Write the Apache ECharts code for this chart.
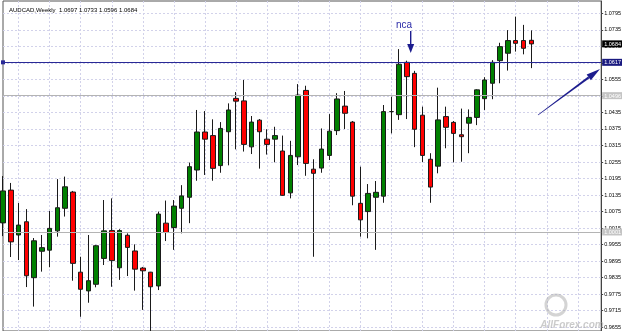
<!DOCTYPE html>
<html><head><meta charset="utf-8">
<script src="https://cdn.jsdelivr.net/npm/echarts@6/dist/echarts.min.js"></script>
<style>html,body{margin:0;padding:0;background:#fff}#c{width:625px;height:331px}</style>
</head><body><div id="c"></div>
<script>
// ---- data (AUDCAD weekly) ----
const opens  = [1.0034,1.0153,0.9990,1.0038,0.9835,0.9931,0.9935,1.0005,1.0087,1.0146,
                0.9855,0.9787,0.9811,0.9905,1.0006,0.9871,0.9989,0.9932,0.9870,0.9855,
                0.9805,1.0033,1.0017,1.0087,1.0127,1.0226,1.0364,1.0351,1.0242,1.0365,
                1.0486,1.0477,1.0310,1.0407,1.0338,1.0338,1.0295,1.0143,1.0274,1.0515,
                1.0229,1.0233,1.0279,1.0369,1.0458,1.0400,1.0105,1.0075,1.0127,1.0131,
                1.0438,1.0427,1.0617,1.0577,1.0425,1.0265,1.0240,1.0420,1.0399,1.0354,
                1.0396,1.0417,1.0485,1.0541,1.0623,1.0650,1.0696,1.0696,1.0697];
const closes = [1.0150,0.9965,1.0026,0.9842,0.9969,0.9944,1.0014,1.0089,1.0165,0.9887,
                0.9793,0.9824,0.9951,1.0005,0.9897,1.0006,0.9945,0.9866,0.9860,0.9802,
                1.0066,0.9999,1.0095,1.0132,1.0238,1.0364,1.0338,1.0232,1.0377,1.0444,
                1.0476,1.0319,1.0400,1.0365,1.0319,1.0351,1.0134,1.0279,1.0498,1.0250,
                1.0214,1.0302,1.0367,1.0484,1.0432,1.0131,1.0045,1.0141,1.0145,1.0438,
                1.0438,1.0610,1.0565,1.0374,1.0279,1.0164,1.0408,1.0381,1.0359,1.0347,
                1.0417,1.0517,1.0553,1.0617,1.0674,1.0696,1.0686,1.0668,1.0684];
const lows   = [0.9986,0.9910,0.9899,0.9801,0.9730,0.9857,0.9873,0.9984,1.0057,0.9824,
                0.9693,0.9744,0.9800,0.9881,0.9802,0.9827,0.9841,0.9788,0.9718,0.9630,
                0.9790,0.9968,0.9936,0.9996,1.0033,1.0187,1.0208,1.0187,1.0216,1.0243,
                1.0301,1.0293,1.0284,1.0231,1.0282,1.0254,1.0132,1.0123,1.0244,1.0205,
                0.9911,1.0216,1.0262,1.0353,1.0375,1.0098,0.9984,0.9978,0.9936,1.0107,
                1.0359,1.0408,1.0411,1.0309,1.0255,1.0107,1.0214,1.0305,1.0254,1.0256,
                1.0287,1.0389,1.0444,1.0483,1.0541,1.0587,1.0656,1.0646,1.0596];
const highs  = [1.0204,1.0179,1.0106,1.0084,0.9979,0.9990,1.0077,1.0193,1.0202,1.0150,
                0.9911,0.9990,0.9954,1.0117,1.0123,1.0011,0.9996,0.9956,0.9874,0.9856,
                1.0075,1.0115,1.0117,1.0171,1.0253,1.0444,1.0440,1.0410,1.0400,1.0468,
                1.0509,1.0553,1.0422,1.0411,1.0374,1.0383,1.0351,1.0332,1.0538,1.0532,
                1.0265,1.0377,1.0429,1.0505,1.0513,1.0404,1.0238,1.0175,1.0186,1.0462,
                1.0492,1.0665,1.0623,1.0586,1.0456,1.0287,1.0525,1.0456,1.0404,1.0449,
                1.0446,1.0519,1.0563,1.0625,1.0688,1.0734,1.0783,1.0753,1.0733];
const emptySlots = 9;
const priceTicks = [0.9655,0.9715,0.9775,0.9835,0.9895,0.9955,1.0015,1.0075,1.0135,1.0195,
                    1.0255,1.0315,1.0375,1.0435,1.0495,1.0555,1.0615,1.0675,1.0735,1.0795];
const blueLevel = 1.0617;
const grayLevels = [1.0496, 1.0001];
const lastPrice = 1.0684;
const headerText = 'AUDCAD,Weekly  1.0697 1.0733 1.0596 1.0684';
const noteText = 'nca';
const watermarkText = 'AllForex.com';

// ---- chart ----
const yMin = 0.96414, yMax = 1.08397;
const n = opens.length;
const categories = opens.map((_, i) => 'W' + (i + 1))
  .concat(Array.from({length: emptySlots}, (_, i) => 'W' + (n + i + 1)));
const candles = opens.map((o, i) => [o, closes[i], lows[i], highs[i]]);
const font = 'Liberation Sans, Arial, sans-serif';
const tagValues = [lastPrice, blueLevel].concat(grayLevels);
function tagKey(v) {
  if (v === lastPrice) return 'blk';
  if (v === blueLevel) return 'blu';
  return 'gry';
}
const chart = echarts.init(document.getElementById('c'), null, {renderer: 'canvas'});
const option = {
  animation: false,
  backgroundColor: '#ffffff',
  title: {
    text: headerText, left: 4, top: 2,
    textStyle: {fontSize: 6, fontWeight: 'normal', color: '#000', fontFamily: font}
  },
  grid: {left: 3, right: 21, top: 1, bottom: 0, show: true, borderColor: '#555', borderWidth: 1},
  xAxis: {
    type: 'category', data: categories, boundaryGap: false,
    axisLine: {show: false}, axisTick: {show: false}, axisLabel: {show: false},
    splitLine: {show: true, interval: (i) => i % 4 === 2,
      lineStyle: {color: '#d2d2ea', type: [2, 2], width: 1}}
  },
  yAxis: [{
    type: 'value', position: 'right', min: yMin, max: yMax,
    axisLine: {show: true, lineStyle: {color: '#444', width: 1}},
    axisTick: {show: true, length: 2, customValues: priceTicks, lineStyle: {color: '#444'}},
    axisLabel: {customValues: priceTicks, formatter: (v) => v.toFixed(4),
      fontSize: 5.5, color: '#000', margin: 3, fontFamily: font},
    splitLine: {show: true, lineStyle: {color: '#d2d2ea', type: [2, 2], width: 1}}
  }, {
    type: 'value', position: 'right', min: yMin, max: yMax,
    axisLine: {show: false}, axisTick: {show: false}, splitLine: {show: false},
    axisLabel: {
      customValues: tagValues, margin: 1,
      formatter: (v) => '{' + tagKey(v) + '|' + v.toFixed(4) + '}',
      rich: {
        blk: {backgroundColor: '#000', color: '#fff', fontSize: 5.5, padding: [1, 1, 0, 2], fontFamily: font},
        blu: {backgroundColor: '#1a1a80', color: '#fff', fontSize: 5.5, padding: [1, 1, 0, 2], fontFamily: font},
        gry: {backgroundColor: '#c4c4c4', color: '#fff', fontSize: 5.5, padding: [1, 1, 0, 2], fontFamily: font}
      }
    }
  }],
  series: [{
    type: 'candlestick', data: candles, barWidth: 5, clip: true,
    itemStyle: {color: '#008000', color0: '#ff0000', borderColor: '#1a1a1a', borderColor0: '#1a1a1a', borderWidth: 1},
    markLine: {
      silent: true, animation: false, symbol: 'none', precision: 4, label: {show: false},
      data: [
        {yAxis: blueLevel, symbol: ['emptyCircle', 'emptyCircle'], symbolSize: 4,
          lineStyle: {color: '#2a2a96', type: 'solid', width: 1}},
      ].concat(grayLevels.map(v => ({yAxis: v, lineStyle: {color: '#b4b4b4', type: 'solid', width: 1}})))
    }
  }]
};
chart.setOption(option);

// ---- annotations ----
function arrowPoly(x1, y1, x2, y2, headLen, headHalf, w0, w1) {
  const dx = x2 - x1, dy = y2 - y1, L = Math.hypot(dx, dy);
  const ux = dx / L, uy = dy / L, px = -uy, py = ux;
  const bx = x2 - ux * headLen, by = y2 - uy * headLen;
  return [
    {type: 'polygon', shape: {points: [[x1 + px * w0, y1 + py * w0], [bx + px * w1, by + py * w1],
      [bx - px * w1, by - py * w1], [x1 - px * w0, y1 - py * w0]]}, style: {fill: '#1c1c8e'}, z: 100},
    {type: 'polygon', shape: {points: [[x2, y2], [bx + px * headHalf, by + py * headHalf],
      [bx - px * headHalf, by - py * headHalf]]}, style: {fill: '#1c1c8e'}, z: 100}
  ];
}
const elements = [];
elements.push({type: 'text', x: 404, y: 25, z: 100,
  style: {text: noteText, fill: '#2a2aa8', fontSize: 10, fontFamily: font, align: 'center', verticalAlign: 'middle'}});
elements.push(...arrowPoly(410.7, 31, 410.7, 53, 9, 3.5, 0.7, 0.7));
elements.push(...arrowPoly(538, 115, 600, 69, 14, 3.5, 0.3, 1.1));
elements.push({type: 'circle', shape: {cx: 556, cy: 305, r: 10}, z: 100,
  style: {fill: 'none', stroke: 'rgba(170,170,170,0.5)', lineWidth: 3}});
elements.push({type: 'text', x: 572, y: 325, z: 100,
  style: {text: watermarkText, fill: 'rgba(160,160,160,0.55)', fontSize: 10, fontStyle: 'italic', fontWeight: 'bold',
    fontFamily: font, align: 'center', verticalAlign: 'middle'}});
chart.setOption({graphic: elements});
</script>
</body></html>
